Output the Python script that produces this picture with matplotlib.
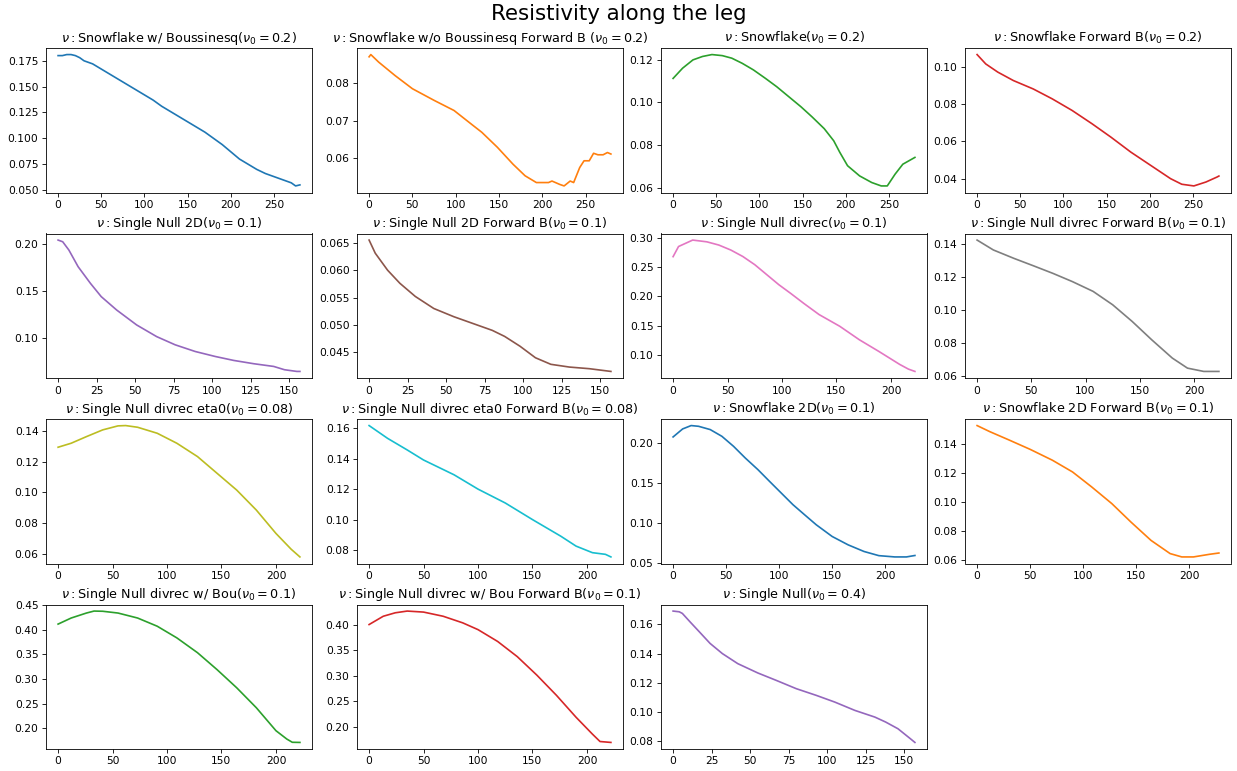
import matplotlib
matplotlib.use("Agg")
import matplotlib.pyplot as plt
from matplotlib.ticker import MultipleLocator

# panel titles
titles = [
    r'$\nu:$Snowflake w/ Boussinesq($\nu_0=0.2$)',
    r'$\nu:$Snowflake w/o Boussinesq Forward B ($\nu_0=0.2$)',
    r'$\nu:$Snowflake($\nu_0=0.2$)',
    r'$\nu:$Snowflake Forward B($\nu_0=0.2$)',
    r'$\nu:$Single Null 2D($\nu_0=0.1$)',
    r'$\nu:$Single Null 2D Forward B($\nu_0=0.1$)',
    r'$\nu:$Single Null divrec($\nu_0=0.1$)',
    r'$\nu:$Single Null divrec Forward B($\nu_0=0.1$)',
    r'$\nu:$Single Null divrec eta0($\nu_0=0.08$)',
    r'$\nu:$Single Null divrec eta0 Forward B($\nu_0=0.08$)',
    r'$\nu:$Snowflake 2D($\nu_0=0.1$)',
    r'$\nu:$Snowflake 2D Forward B($\nu_0=0.1$)',
    r'$\nu:$Single Null divrec w/ Bou($\nu_0=0.1$)',
    r'$\nu:$Single Null divrec w/ Bou Forward B($\nu_0=0.1$)',
    r'$\nu:$Single Null($\nu_0=0.4$)',
]

# values, position along the leg vs resistivity
x1 = [0, 5, 10, 15, 20, 25, 30, 40, 50, 60, 70, 80, 90, 100, 110, 120, 130, 140,
      150, 160, 170, 180, 190, 200, 210, 220, 230, 240, 250, 260, 270, 275, 280]
y1 = [0.180, 0.180, 0.181, 0.181, 0.180, 0.178, 0.175, 0.172, 0.167, 0.162, 0.157,
      0.152, 0.147, 0.142, 0.137, 0.131, 0.126, 0.121, 0.116, 0.111, 0.106, 0.100,
      0.094, 0.087, 0.080, 0.075, 0.070, 0.066, 0.063, 0.060, 0.057, 0.054, 0.055]

x2 = [0, 2, 11, 30, 50, 75, 98, 120, 130, 148, 166, 180, 193, 207, 211, 220, 225,
      232, 236, 243, 248, 254, 259, 264, 270, 275, 279]
y2 = [0.0870, 0.0876, 0.0856, 0.0820, 0.0785, 0.0754, 0.0727, 0.0687, 0.0669, 0.0629,
      0.0584, 0.0553, 0.0535, 0.0535, 0.0539, 0.0530, 0.0526, 0.0539, 0.0535, 0.0575,
      0.0593, 0.0593, 0.0613, 0.0609, 0.0609, 0.0615, 0.0611]

x3 = [0, 11, 23, 34, 45, 57, 68, 80, 93, 107, 120, 134, 148, 161, 175, 186, 193,
      202, 216, 230, 241, 248, 257, 266, 280]
y3 = [0.1113, 0.1161, 0.1200, 0.1216, 0.1225, 0.1220, 0.1208, 0.1184, 0.1153, 0.1113,
      0.1074, 0.1027, 0.0980, 0.0932, 0.0877, 0.0820, 0.0766, 0.0703, 0.0655, 0.0624,
      0.0608, 0.0608, 0.0663, 0.0710, 0.0742]

x4 = [0, 10, 24, 42, 65, 87, 110, 133, 155, 178, 201, 224, 237, 251, 265, 278, 280]
y4 = [0.1064, 0.1014, 0.0970, 0.0925, 0.0880, 0.0827, 0.0765, 0.0694, 0.0622, 0.0542,
      0.0471, 0.0400, 0.0370, 0.0361, 0.0382, 0.0409, 0.0414]

x5 = [0, 3, 7, 13, 21, 28, 38, 51, 64, 76, 89, 102, 114, 127, 140, 147, 155, 157]
y5 = [0.2046, 0.2028, 0.1940, 0.1763, 0.1586, 0.1445, 0.1303, 0.1144, 0.1020, 0.0933,
      0.0862, 0.0809, 0.0767, 0.0732, 0.0703, 0.0668, 0.0650, 0.0650]

x6 = [0, 4, 12, 20, 30, 42, 55, 67, 80, 88, 98, 108, 118, 130, 143, 157]
y6 = [0.0655, 0.0631, 0.0600, 0.0576, 0.0552, 0.0530, 0.0515, 0.0503, 0.0490, 0.0479,
      0.0461, 0.0440, 0.0428, 0.0423, 0.0420, 0.0415]

x7 = [0, 5, 18, 31, 42, 53, 64, 75, 86, 97, 108, 120, 134, 153, 171, 189, 208, 216, 222]
y7 = [0.2677, 0.2850, 0.2960, 0.2930, 0.2875, 0.2790, 0.2680, 0.2540, 0.2370, 0.2200,
      0.2050, 0.1880, 0.1690, 0.1490, 0.1260, 0.1060, 0.0840, 0.0760, 0.0720]

x8 = [0, 15, 34, 52, 70, 88, 107, 125, 143, 161, 180, 194, 209, 223]
y8 = [0.1426, 0.1366, 0.1315, 0.1270, 0.1224, 0.1174, 0.1115, 0.1034, 0.0933, 0.0822,
      0.0711, 0.0650, 0.0630, 0.0630]

x9 = [0, 12, 26, 41, 55, 62, 73, 91, 109, 128, 146, 164, 182, 200, 214, 222]
y9 = [0.1294, 0.1320, 0.1363, 0.1407, 0.1433, 0.1435, 0.1424, 0.1385, 0.1320, 0.1233,
      0.1124, 0.1015, 0.0885, 0.0733, 0.0630, 0.0580]

x10 = [0, 17, 35, 50, 78, 100, 125, 150, 176, 190, 205, 217, 222]
y10 = [0.1617, 0.1533, 0.1457, 0.1391, 0.1294, 0.1200, 0.1109, 0.1000, 0.0891, 0.0826,
       0.0783, 0.0772, 0.0755]

x11 = [0, 9, 17, 24, 35, 46, 57, 68, 80, 91, 102, 113, 124, 135, 150, 165, 180, 194,
       209, 220, 228]
y11 = [0.2075, 0.2175, 0.2217, 0.2208, 0.2167, 0.2083, 0.1958, 0.1813, 0.1667, 0.1520,
       0.1375, 0.1230, 0.1104, 0.0979, 0.0833, 0.0729, 0.0646, 0.0594, 0.0578, 0.0578,
       0.0596]

x12 = [0, 12, 30, 50, 71, 90, 108, 127, 145, 164, 182, 193, 204, 219, 228]
y12 = [0.1527, 0.1485, 0.1428, 0.1363, 0.1288, 0.1207, 0.1104, 0.0989, 0.0862, 0.0735,
       0.0644, 0.0621, 0.0621, 0.0639, 0.0648]

x13 = [0, 12, 26, 33, 41, 55, 73, 91, 109, 128, 146, 164, 182, 200, 210, 215, 222]
y13 = [0.411, 0.4233, 0.4334, 0.4374, 0.4370, 0.4334, 0.4233, 0.4067, 0.3831, 0.3530,
       0.3186, 0.2819, 0.2415, 0.1950, 0.1780, 0.1715, 0.1712]

x14 = [0, 13, 24, 35, 50, 68, 86, 100, 118, 136, 154, 172, 190, 205, 212, 222]
y14 = [0.4007, 0.4170, 0.4238, 0.4272, 0.4252, 0.4170, 0.4040, 0.3907, 0.3675, 0.3377,
       0.3013, 0.2616, 0.2185, 0.1854, 0.1708, 0.1690]

x15 = [0, 4, 6, 11, 17, 24, 32, 42, 55, 67, 80, 93, 105, 118, 131, 138, 146, 154, 157]
y15 = [0.1692, 0.1687, 0.1676, 0.1618, 0.1550, 0.1470, 0.1400, 0.1331, 0.1267, 0.1216,
       0.1159, 0.1113, 0.1067, 0.1010, 0.0964, 0.0930, 0.0884, 0.0816, 0.0790]

xs = [x1, x2, x3, x4, x5, x6, x7, x8, x9, x10, x11, x12, x13, x14, x15]
ys = [y1, y2, y3, y4, y5, y6, y7, y8, y9, y10, y11, y12, y13, y14, y15]

W, H = 1237, 771
fig = plt.figure(figsize=(W / 100, H / 100), dpi=100)

col_left = [46, 357, 661, 965]
row_top = [48, 233.5, 419, 604.5]
box_w, box_h = 266, 144.5

for i in range(len(titles)):
    r, c = divmod(i, 4)
    ax = fig.add_axes([col_left[c] / W, 1 - (row_top[r] + box_h) / H, box_w / W, box_h / H])
    ax.plot(xs[i], ys[i], color='C%d' % (i % 10), linewidth=1.2)
    ax.set_title(titles[i], fontsize=9.2, pad=4.5)
    ax.tick_params(labelsize=7.7, width=0.6, length=2.7, pad=2.7)
    for s in ax.spines.values():
        s.set_linewidth(0.6)
    step = 25 if max(xs[i]) < 200 else 50
    ax.xaxis.set_major_locator(MultipleLocator(step))

fig.suptitle('Resistivity along the leg', fontsize=15.4, y=0.995)
plt.savefig('out.png', dpi=100)
